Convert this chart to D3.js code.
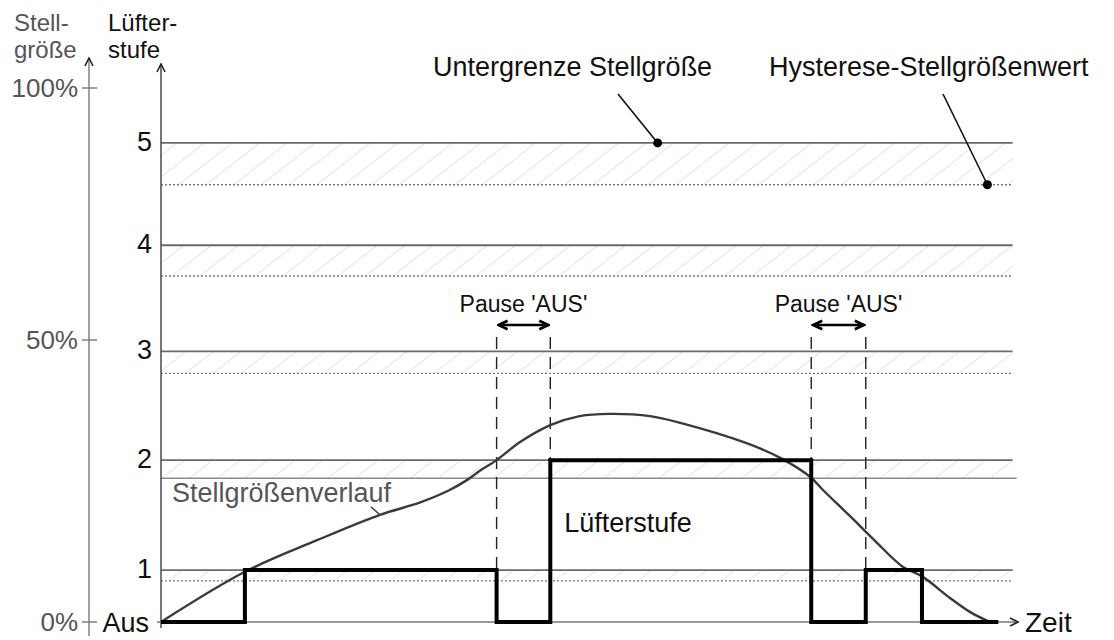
<!DOCTYPE html>
<html>
<head>
<meta charset="utf-8">
<script src="https://cdn.jsdelivr.net/npm/d3@7"></script>
<style>
  html, body { margin: 0; padding: 0; background: #fff; }
  svg { display: block; }
  text { font-family: "Liberation Sans", Arial, sans-serif; }
</style>
</head>
<body>
<svg id="chart" width="1114" height="640"></svg>
<script>
// Stellgröße ticks (percent) and their labels
const pctTicks = [0, 50, 100];
const pctLabels = ["0%", "50%", "100%"];

// Fan stage thresholds (lower limit of control value, percent) and hysteresis values
const stageLabels = ["Aus", "1", "2", "3", "4", "5"];
const stageThreshold = [0, 9.2, 28.7, 48.0, 68.8, 89.1];
const stageHysteresis = [null, 7.3, 25.5, 44.1, 62.7, 80.8];
const hysteresisSolid = [false, false, true, false, false, false];

// Fan stage over time (step function): switch times and stage after each switch
const stepTimes = [0, 10.0, 40.0, 46.4, 77.5, 84.0, 90.7, 99.8];
const stepStages = [0, 1, 0, 2, 0, 1, 0, 0];

// Control value curve over time (percent)
const curveTimes = [0, 10, 18.6, 26.1, 30.9, 34.4, 36.5, 38.0, 40.0, 42.8, 46.4, 49.9, 53.5, 58.3, 61.9, 69.8, 73.8, 77.4, 78.9, 82.1, 85.1, 88.4, 90.8, 94.0, 96.4, 98.8];
const curveValues = [0, 8.9, 14.5, 19.0, 21.2, 23.4, 25.2, 26.8, 28.7, 31.9, 34.9, 36.5, 36.9, 36.5, 35.3, 31.7, 29.1, 25.7, 23.4, 18.8, 14.4, 9.8, 8.0, 4.3, 1.8, 0];

// Pause 'AUS' intervals (start, end)
const pauses = [[40.0, 46.4], [77.5, 84.0]];

const svg = d3.select("#chart");

const x = d3.scaleLinear().domain([0, 100]).range([161, 1000]);
const y = d3.scaleLinear().domain([0, 50, 100]).range([622, 340, 88]);

const axisX = x(0);
const pctAxisX = 89;
const tEnd = 101.5;
const FS = 27;

// hatch pattern for hysteresis bands
const defs = svg.append("defs");
const pat = defs.append("pattern")
  .attr("id", "hatch")
  .attr("patternUnits", "userSpaceOnUse")
  .attr("width", 17).attr("height", 17)
  .attr("patternTransform", "rotate(52)");
pat.append("line")
  .attr("x1", 0).attr("y1", 0).attr("x2", 0).attr("y2", 17)
  .attr("stroke", "#d6d6d6").attr("stroke-width", 1.3);

defs.append("marker")
  .attr("id", "arrowOpen")
  .attr("viewBox", "0 0 10 10").attr("refX", 9).attr("refY", 5)
  .attr("markerWidth", 10).attr("markerHeight", 10)
  .attr("markerUnits", "userSpaceOnUse")
  .attr("orient", "auto-start-reverse")
  .append("path")
  .attr("d", "M1,1 L9,5 L1,9")
  .attr("fill", "none").attr("stroke", "#222").attr("stroke-width", 1.6);

defs.append("marker")
  .attr("id", "arrowBold")
  .attr("viewBox", "0 0 10 10").attr("refX", 8.5).attr("refY", 5)
  .attr("markerWidth", 12).attr("markerHeight", 12)
  .attr("markerUnits", "userSpaceOnUse")
  .attr("orient", "auto-start-reverse")
  .append("path")
  .attr("d", "M1,1.5 L8.5,5 L1,8.5")
  .attr("fill", "none").attr("stroke", "#000").attr("stroke-width", 2.2);

// hysteresis bands
for (let i = 1; i < stageThreshold.length; i++) {
  svg.append("rect")
    .attr("x", axisX).attr("y", y(stageThreshold[i]))
    .attr("width", x(tEnd) - axisX)
    .attr("height", y(stageHysteresis[i]) - y(stageThreshold[i]))
    .attr("fill", "url(#hatch)");
  svg.append("line")
    .attr("x1", axisX).attr("x2", x(tEnd) + (hysteresisSolid[i] ? 4 : 0))
    .attr("y1", y(stageHysteresis[i])).attr("y2", y(stageHysteresis[i]))
    .attr("stroke", hysteresisSolid[i] ? "#8a8a8a" : "#777")
    .attr("stroke-width", hysteresisSolid[i] ? 1.5 : 1.3)
    .attr("stroke-dasharray", hysteresisSolid[i] ? null : "2,2");
  svg.append("line")
    .attr("x1", axisX).attr("x2", x(tEnd))
    .attr("y1", y(stageThreshold[i])).attr("y2", y(stageThreshold[i]))
    .attr("stroke", "#6a6a6a").attr("stroke-width", 1.8);
}

// Stellgröße axis
svg.append("line")
  .attr("x1", pctAxisX).attr("x2", pctAxisX)
  .attr("y1", y(0) + 14).attr("y2", 58)
  .attr("stroke", "#777").attr("stroke-width", 1.4)
  .attr("marker-end", "url(#arrowOpen)");
pctTicks.forEach((v, i) => {
  svg.append("line")
    .attr("x1", pctAxisX - 7).attr("x2", pctAxisX + 8)
    .attr("y1", y(v)).attr("y2", y(v))
    .attr("stroke", "#777").attr("stroke-width", 1.4);
  svg.append("text")
    .attr("x", pctAxisX - 11).attr("y", y(v))
    .attr("dy", "0.36em").attr("text-anchor", "end")
    .attr("font-size", FS - 1).attr("fill", "#555")
    .text(pctLabels[i]);
});

// two-line axis titles
const titleFS = 24;
[["Stell-", "größe", 14, "#555"], ["Lüfter-", "stufe", 108, "#111"]].forEach(([a, b, tx, col]) => {
  svg.append("text").attr("x", tx).attr("y", 31).attr("font-size", titleFS).attr("fill", col).text(a);
  svg.append("text").attr("x", tx).attr("y", 58).attr("font-size", titleFS).attr("fill", col).text(b);
});

// Lüfterstufe axis
svg.append("line")
  .attr("x1", axisX).attr("x2", axisX)
  .attr("y1", y(0) + 6).attr("y2", 64)
  .attr("stroke", "#555").attr("stroke-width", 1.6)
  .attr("marker-end", "url(#arrowOpen)");
stageLabels.forEach((lab, i) => {
  svg.append("text")
    .attr("x", i === 0 ? axisX - 12 : axisX - 9).attr("y", y(stageThreshold[i]))
    .attr("dy", i === 0 ? "0.36em" : "0.3em").attr("text-anchor", "end")
    .attr("font-size", FS).attr("fill", "#111")
    .text(lab);
});

// time axis
svg.append("line")
  .attr("x1", axisX - 4).attr("x2", 1018)
  .attr("y1", y(0)).attr("y2", y(0))
  .attr("stroke", "#777").attr("stroke-width", 1.4)
  .attr("marker-end", "url(#arrowOpen)");
svg.append("text").attr("x", 1025).attr("y", y(0)).attr("dy", "0.36em")
  .attr("font-size", FS + 1).attr("fill", "#111").text("Zeit");

// pause markers
const pauseTop = y(50) - 3;
pauses.forEach(p => {
  p.forEach(t => {
    svg.append("line")
      .attr("x1", x(t)).attr("x2", x(t))
      .attr("y1", pauseTop).attr("y2", y(0))
      .attr("stroke", "#222").attr("stroke-width", 1.4)
      .attr("stroke-dasharray", "12,8");
  });
  const ay = pauseTop - 12;
  svg.append("line")
    .attr("x1", x(p[0]) + 2).attr("x2", x(p[1]) - 2)
    .attr("y1", ay).attr("y2", ay)
    .attr("stroke", "#000").attr("stroke-width", 2.4)
    .attr("marker-start", "url(#arrowBold)")
    .attr("marker-end", "url(#arrowBold)");
  svg.append("text")
    .attr("x", (x(p[0]) + x(p[1])) / 2).attr("y", ay - 13)
    .attr("text-anchor", "middle")
    .attr("font-family", "'Open Sans', 'Noto Sans', sans-serif")
    .attr("font-size", 23).attr("fill", "#111")
    .text("Pause 'AUS'");
});

// control value curve
const curveData = curveTimes.map((t, i) => [t, curveValues[i]]);
const curveLine = d3.line().x(d => x(d[0])).y(d => y(d[1])).curve(d3.curveCatmullRom.alpha(0.5));
svg.append("path")
  .datum(curveData)
  .attr("d", curveLine)
  .attr("fill", "none").attr("stroke", "#3a3a3a").attr("stroke-width", 2.4);

// fan stage step function
const stepData = stepTimes.map((t, i) => [t, stageThreshold[stepStages[i]]]);
const stepLine = d3.line().x(d => x(d[0])).y(d => y(d[1])).curve(d3.curveStepAfter);
svg.append("path")
  .datum(stepData)
  .attr("d", stepLine)
  .attr("fill", "none").attr("stroke", "#000").attr("stroke-width", 4)
  .attr("stroke-linejoin", "miter");

// labels on curve and step
svg.append("text").attr("x", 172).attr("y", 502)
  .attr("font-size", FS).attr("fill", "#555").text("Stellgrößenverlauf");
const lt = curveTimes[3], lv = curveValues[3];
svg.append("line")
  .attr("x1", x(lt) - 9).attr("y1", y(lv) - 8)
  .attr("x2", x(lt)).attr("y2", y(lv))
  .attr("stroke", "#444").attr("stroke-width", 1.5);
svg.append("text").attr("x", x(46.4) + 14).attr("y", 522).attr("dy", "0.36em")
  .attr("font-size", FS).attr("fill", "#111").text("Lüfterstufe");

// annotations: lower limit and hysteresis value
const ann = [
  { t: 59.2, v: stageThreshold[5], text: "Untergrenze Stellgröße", tx: 433, ty: 76, lx: 618, ly: 94 },
  { t: 98.5, v: stageHysteresis[5], text: "Hysterese-Stellgrößenwert", tx: 769, ty: 76, lx: 943, ly: 94 }
];
ann.forEach(a => {
  svg.append("text").attr("x", a.tx).attr("y", a.ty)
    .attr("font-size", FS).attr("fill", "#111").text(a.text);
  svg.append("line")
    .attr("x1", a.lx).attr("y1", a.ly)
    .attr("x2", x(a.t)).attr("y2", y(a.v))
    .attr("stroke", "#111").attr("stroke-width", 1.6);
  svg.append("circle")
    .attr("cx", x(a.t)).attr("cy", y(a.v)).attr("r", 4.5)
    .attr("fill", "#000");
});
</script>
</body>
</html>
